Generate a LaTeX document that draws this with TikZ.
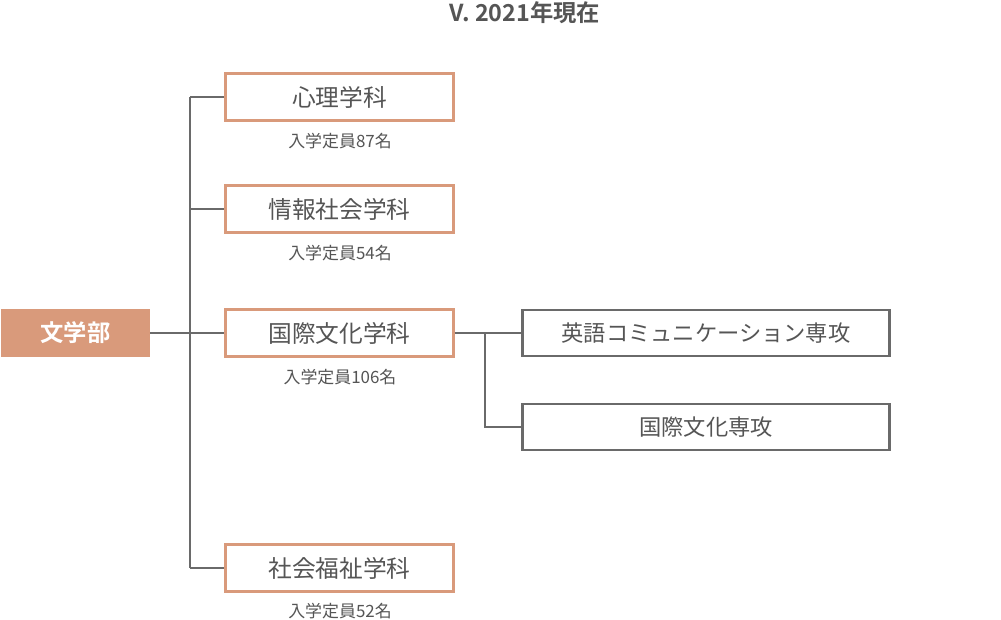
\documentclass[tikz,border=0pt]{standalone}
\usepackage{fontspec}
\setmainfont{Noto Sans CJK JP}
\newfontfamily\jpbold{Noto Sans CJK JP Bold}
\definecolor{accent}{HTML}{D99A7B}
\definecolor{linegray}{HTML}{6A6A6A}
\definecolor{textgray}{HTML}{555555}
\newlength{\pxu}
\setlength{\pxu}{0.75pt}
\tikzset{
  rootbox/.style={fill=accent, draw=none, minimum width=149\pxu, minimum height=48\pxu, inner sep=0pt, text=white, font=\jpbold\fontsize{17.5}{19}\selectfont},
  deptbox/.style={draw=accent, line width=1.6pt, fill=white, minimum width=228\pxu, minimum height=47\pxu, inner sep=0pt, text=textgray, font=\fontsize{17.8}{20}\selectfont},
  subbox/.style={draw=linegray, line width=1.6pt, fill=white, minimum width=367\pxu, minimum height=46\pxu, inner sep=0pt, text=textgray, font=\fontsize{16.7}{19}\selectfont},
  caption/.style={text=textgray, inner sep=0pt, font=\fontsize{12.7}{14}\selectfont},
  conn/.style={draw=linegray, line width=0.8pt},
}
\begin{document}
\begin{tikzpicture}[x=0.75pt,y=-0.75pt]
\useasboundingbox (0,0) rectangle (1001,620);
\node[text=textgray, font=\jpbold\fontsize{17.5}{19}\selectfont, inner sep=0pt] (title) at (525,13) {V. 2021年現在};
\coordinate (trunktop) at (190,97);
\coordinate (trunkbot) at (190,568);
\coordinate (trunkmid) at (190,209);
\coordinate (branch) at (485,333);
\coordinate (branchbot) at (485,427);
\node[rootbox] (root) at (75.5,333) {文学部};
\node[deptbox] (d1) at (339.5,97) {心理学科};
\node[deptbox] (d2) at (339.5,209) {情報社会学科};
\node[deptbox] (d3) at (339.5,333) {国際文化学科};
\node[deptbox] (d4) at (339.5,568) {社会福祉学科};
\node[caption] (c1) at (340,141) {入学定員87名};
\node[caption] (c2) at (340,253) {入学定員54名};
\node[caption] (c3) at (340,377) {入学定員106名};
\node[caption] (c4) at (340,611) {入学定員52名};
\node[subbox] (s1) at (706,333) {英語コミュニケーション専攻};
\node[subbox] (s2) at (706,427) {国際文化専攻};
\draw[conn] (trunktop) -- (trunkbot);
\draw[conn] (root.east) -- (d3.west);
\draw[conn] (trunktop) -- (d1.west);
\draw[conn] (trunkmid) -- (d2.west);
\draw[conn] (trunkbot) -- (d4.west);
\draw[conn] (d3.east) -- (s1.west);
\draw[conn] (branch) -- (branchbot) -- (s2.west);
\end{tikzpicture}
\end{document}
